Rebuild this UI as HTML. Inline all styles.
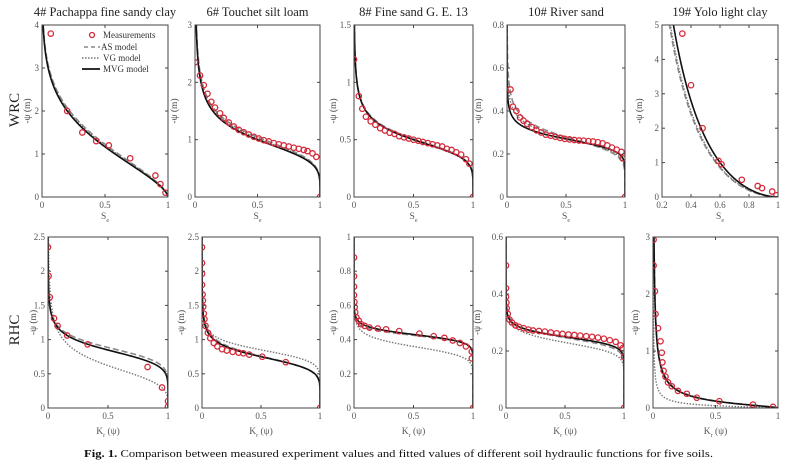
<!DOCTYPE html>
<html><head><meta charset="utf-8">
<style>
html,body{margin:0;padding:0;background:#fff;}
svg{display:block;}
text{font-family:"Liberation Serif",serif;fill:#333;}
</style></head>
<body>
<svg id="s" width="798" height="469" viewBox="0 0 798 469" xmlns="http://www.w3.org/2000/svg"></svg>
<script>
const S=document.getElementById('s');let out='';
function vg(a,n){const m=1-1/n;return h=>Math.pow(1+Math.pow(a*h,n),-m);}
function lg(b,q){return h=>1/(1+Math.pow(b*h,q));}
function ex(k,p){return h=>Math.exp(-k*Math.pow(h,p));}
const panels=[
 {x0:42,x1:168,y0:25,y1:197,xmin:0,xmax:1,ymax:4,xt:[0,0.5,1],yt:[0,1,2,3,4],title:'4# Pachappa fine sandy clay',xl:'S',row:0,
  mvg:ex(0.545,1.56),as:ex(0.5,1.6),vgf:ex(0.52,1.58),
  pts:[[0.07,3.8],[0.2,2],[0.32,1.5],[0.43,1.3],[0.53,1.2],[0.7,0.9],[0.9,0.5],[0.94,0.3],[0.98,0.1]]},
 {x0:195,x1:320,y0:25,y1:197,xmin:0,xmax:1,ymax:3,xt:[0,0.5,1],yt:[0,1,2,3],title:'6# Touchet silt loam',xl:'S',row:0,
  mvg:vg(1.066,5),as:vg(1.02,5),vgf:vg(1.04,5),
  pts:[[0.0,2.35],[0.04,2.12],[0.07,1.95],[0.1,1.8],[0.13,1.66],[0.16,1.56],[0.2,1.46],[0.23,1.38],[0.27,1.3],[0.31,1.23],[0.35,1.17],[0.39,1.13],[0.43,1.09],[0.47,1.05],[0.51,1.02],[0.55,0.99],[0.59,0.97],[0.63,0.94],[0.67,0.92],[0.71,0.9],[0.75,0.88],[0.79,0.86],[0.83,0.84],[0.87,0.82],[0.9,0.8],[0.94,0.76],[0.97,0.7],[1,0]]},
 {x0:354,x1:473,y0:25,y1:197,xmin:0,xmax:1,ymax:1.5,xt:[0,0.5,1],yt:[0,0.5,1,1.5],title:'8# Fine sand G. E. 13',xl:'S',row:0,
  mvg:vg(2.09,6),as:vg(2.06,6),vgf:vg(2.08,6),
  pts:[[0,1.2],[0.04,0.88],[0.07,0.77],[0.1,0.7],[0.14,0.66],[0.18,0.63],[0.22,0.6],[0.26,0.58],[0.3,0.56],[0.34,0.55],[0.38,0.53],[0.42,0.52],[0.46,0.51],[0.5,0.5],[0.54,0.49],[0.58,0.48],[0.62,0.47],[0.66,0.46],[0.7,0.45],[0.74,0.44],[0.78,0.42],[0.82,0.41],[0.86,0.39],[0.9,0.37],[0.94,0.33],[0.97,0.29],[1,0]]},
 {x0:507,x1:625,y0:25,y1:197,xmin:0,xmax:1,ymax:0.8,xt:[0,0.5,1],yt:[0,0.2,0.4,0.6,0.8],title:'10# River sand',xl:'S',row:0,
  mvg:vg(3.76,10),as:vg(3.7,7),vgf:vg(3.72,8),
  pts:[[0.03,0.5],[0.05,0.42],[0.08,0.4],[0.11,0.37],[0.14,0.355],[0.17,0.34],[0.21,0.325],[0.25,0.31],[0.29,0.3],[0.33,0.29],[0.37,0.285],[0.41,0.28],[0.45,0.275],[0.49,0.27],[0.53,0.268],[0.57,0.265],[0.61,0.263],[0.65,0.262],[0.69,0.26],[0.73,0.258],[0.77,0.255],[0.81,0.25],[0.85,0.24],[0.89,0.23],[0.93,0.22],[0.97,0.21],[0.98,0.18],[1,0]]},
 {x0:662,x1:778,y0:25,y1:197,xmin:0.2,xmax:1,ymax:5,xt:[0.2,0.4,0.6,0.8,1],yt:[0,1,2,3,4,5],title:'19# Yolo light clay',xl:'S',row:0,
  mvg:ex(0.51,0.57),as:ex(0.56,0.56),vgf:ex(0.55,0.56),
  pts:[[0.34,4.75],[0.4,3.25],[0.48,2],[0.59,1.05],[0.61,0.95],[0.75,0.5],[0.86,0.32],[0.89,0.26],[0.96,0.16],[0.99,0.05]]},
 {x0:48,x1:168,y0:237,y1:408,xmin:0,xmax:1,ymax:2.5,xt:[0,0.5,1],yt:[0,0.5,1,1.5,2,2.5],xl:'K',row:1,
  mvg:lg(1.18,7.4),as:lg(1.13,8),vgf:lg(1/0.62,4),
  pts:[[0,2.35],[0.005,1.93],[0.015,1.62],[0.05,1.31],[0.08,1.2],[0.16,1.06],[0.33,0.93],[0.83,0.6],[0.95,0.3],[1,0.1],[1,0.02]]},
 {x0:202,x1:320,y0:237,y1:408,xmin:0,xmax:1,ymax:2.5,xt:[0,0.5,1],yt:[0,0.5,1,1.5,2,2.5],xl:'K',row:1,
  mvg:lg(1.333,7.6),as:lg(1.32,7.2),vgf:lg(1.176,10),
  pts:[[0,2.35],[0,2.12],[0,1.96],[0,1.8],[0.005,1.66],[0.008,1.57],[0.01,1.48],[0.015,1.38],[0.02,1.3],[0.03,1.2],[0.05,1.1],[0.07,1.02],[0.1,0.95],[0.13,0.9],[0.17,0.86],[0.21,0.84],[0.26,0.82],[0.31,0.81],[0.35,0.8],[0.4,0.78],[0.51,0.75],[0.71,0.67],[1,0]]},
 {x0:354,x1:473,y0:237,y1:408,xmin:0,xmax:1,ymax:1,xt:[0,0.5,1],yt:[0,0.2,0.4,0.6,0.8,1],xl:'K',row:1,
  mvg:lg(1/0.43,19.6),as:lg(1/0.425,22),vgf:lg(1/0.36,12),
  pts:[[0,0.88],[0,0.77],[0,0.71],[0,0.66],[0.003,0.62],[0.006,0.59],[0.01,0.56],[0.02,0.53],[0.04,0.51],[0.06,0.49],[0.09,0.48],[0.13,0.47],[0.2,0.465],[0.27,0.46],[0.38,0.45],[0.55,0.435],[0.67,0.42],[0.76,0.41],[0.83,0.395],[0.89,0.38],[0.94,0.36],[0.99,0.33],[0.99,0.29],[1,0]]},
 {x0:506,x1:624,y0:237,y1:408,xmin:0,xmax:1,ymax:0.6,xt:[0,0.5,1],yt:[0,0.2,0.4,0.6],xl:'K',row:1,
  mvg:lg(4,16),as:lg(4.05,14),vgf:lg(4.35,12),
  pts:[[0,0.5],[0,0.42],[0,0.39],[0.003,0.37],[0.006,0.35],[0.015,0.33],[0.03,0.31],[0.05,0.3],[0.08,0.29],[0.11,0.285],[0.15,0.28],[0.19,0.275],[0.23,0.272],[0.28,0.27],[0.33,0.268],[0.38,0.265],[0.43,0.262],[0.48,0.26],[0.53,0.258],[0.58,0.256],[0.63,0.254],[0.68,0.252],[0.73,0.25],[0.78,0.247],[0.83,0.243],[0.88,0.238],[0.93,0.232],[0.97,0.22],[0.99,0.21],[1,0.18],[1,0]]},
 {x0:653,x1:778,y0:237,y1:408,xmin:0,xmax:1,ymax:3,xt:[0,0.5,1],yt:[0,1,2,3],xl:'K',row:1,
  mvg:lg(8.33,1.5),as:lg(8.0,1.5),vgf:lg(25,1.5),
  pts:[[0.005,2.95],[0.005,2.5],[0.015,2.05],[0.02,1.65],[0.04,1.4],[0.06,1.17],[0.07,0.97],[0.075,0.8],[0.085,0.65],[0.1,0.55],[0.12,0.45],[0.15,0.38],[0.2,0.3],[0.27,0.25],[0.35,0.18],[0.53,0.12],[0.8,0.06],[0.96,0.02]]}
];
function fmt(v){return (Math.round(v*10)/10).toString();}
panels.forEach((p,i)=>{
 const X=v=>p.x0+(v-p.xmin)/(p.xmax-p.xmin)*(p.x1-p.x0);
 const Y=v=>p.y1-v/p.ymax*(p.y1-p.y0);
 out+=`<clipPath id="c${i}"><rect x="${p.x0}" y="${p.y0}" width="${p.x1-p.x0}" height="${p.y1-p.y0}"/></clipPath>`;
 function path(f){let d='';const N=600;for(let k=0;k<=N;k++){const h=p.ymax*1.05*Math.pow(k/N,2.5);let x=f(h);d+=(k?'L':'M')+X(x).toFixed(2)+','+Y(h).toFixed(2);}return d;}
 out+=`<g clip-path="url(#c${i})">`;
 out+=`<path d="${path(p.as)}" fill="none" stroke="#8a8a8a" stroke-width="1.6" stroke-dasharray="6,3"/>`;
 out+=`<path d="${path(p.vgf)}" fill="none" stroke="#777" stroke-width="1.4" stroke-dasharray="1.5,1.5"/>`;
 out+=`<path d="${path(p.mvg)}" fill="none" stroke="#111" stroke-width="1.6"/>`;
 p.pts.forEach(q=>{out+=`<circle cx="${X(q[0]).toFixed(1)}" cy="${Y(q[1]).toFixed(1)}" r="2.7" fill="none" stroke="#d42a3a" stroke-width="1.3"/>`;});
 out+='</g>';
 out+=`<rect x="${p.x0}" y="${p.y0}" width="${p.x1-p.x0}" height="${p.y1-p.y0}" fill="none" stroke="#444" stroke-width="1"/>`;
 p.xt.forEach(v=>{const x=X(v);out+=`<line x1="${x}" y1="${p.y1}" x2="${x}" y2="${p.y1-3}" stroke="#444"/><line x1="${x}" y1="${p.y0}" x2="${x}" y2="${p.y0+3}" stroke="#444"/>`;
  out+=`<text x="${x}" y="${p.y1+11}" font-size="9" text-anchor="middle" style="fill:#555">${fmt(v)}</text>`;});
 p.yt.forEach(v=>{const y=Y(v);out+=`<line x1="${p.x0}" y1="${y}" x2="${p.x0+3}" y2="${y}" stroke="#444"/><line x1="${p.x1}" y1="${y}" x2="${p.x1-3}" y2="${y}" stroke="#444"/>`;
  out+=`<text x="${p.x0-3}" y="${y+3}" font-size="9" text-anchor="end" style="fill:#555">${fmt(v)}</text>`;});
 const cx=(p.x0+p.x1)/2;
 if(p.row==0){out+=`<text x="${cx}" y="${p.y1+22}" font-size="9.5" text-anchor="middle" style="fill:#555">S<tspan font-size="6" dy="3">e</tspan></text>`;
  out+=`<text x="${cx}" y="16" font-size="12.5" text-anchor="middle" style="fill:#222">${p.title}</text>`;}
 else out+=`<text x="${cx}" y="${p.y1+26}" font-size="9.5" text-anchor="middle" style="fill:#555">K<tspan font-size="6" dy="3">r</tspan><tspan dy="-3"> (ψ)</tspan></text>`;
 const ylx = (i==0||i==5)?p.x0-12:(p.x0-(i==3||i==8?26:(i==4?20:(i==9?15:18))));
 const cy=(p.y0+p.y1)/2;
 out+=`<text transform="translate(${ylx},${cy}) rotate(-90)" font-size="9.5" text-anchor="middle" style="fill:#444">-ψ (m)</text>`;
});
out+=`<text transform="translate(19,110) rotate(-90)" font-size="15" text-anchor="middle" style="fill:#222">WRC</text>`;
out+=`<text transform="translate(19,330) rotate(-90)" font-size="15" text-anchor="middle" style="fill:#222">RHC</text>`;
out+=`<circle cx="92" cy="35" r="2.5" fill="none" stroke="#d42a3a" stroke-width="1.3"/><text x="103" y="38" font-size="9" style="fill:#333">Measurements</text>`;
out+=`<line x1="84" y1="47" x2="100" y2="47" stroke="#8a8a8a" stroke-width="1.6" stroke-dasharray="4,3"/><text x="101" y="50" font-size="9" style="fill:#333">AS model</text>`;
out+=`<line x1="82" y1="58" x2="100" y2="58" stroke="#777" stroke-width="1.4" stroke-dasharray="1.5,1.5"/><text x="103" y="61" font-size="9" style="fill:#333">VG model</text>`;
out+=`<line x1="82" y1="69" x2="100" y2="69" stroke="#111" stroke-width="1.8"/><text x="103" y="72" font-size="9" style="fill:#333">MVG model</text>`;
out+=`<text x="84" y="457" font-size="10.5" textLength="629" lengthAdjust="spacingAndGlyphs" style="fill:#111"><tspan font-weight="bold">Fig. 1.</tspan> Comparison between measured experiment values and fitted values of different soil hydraulic functions for five soils.</text>`;
S.innerHTML=out;
</script>
</body></html>
